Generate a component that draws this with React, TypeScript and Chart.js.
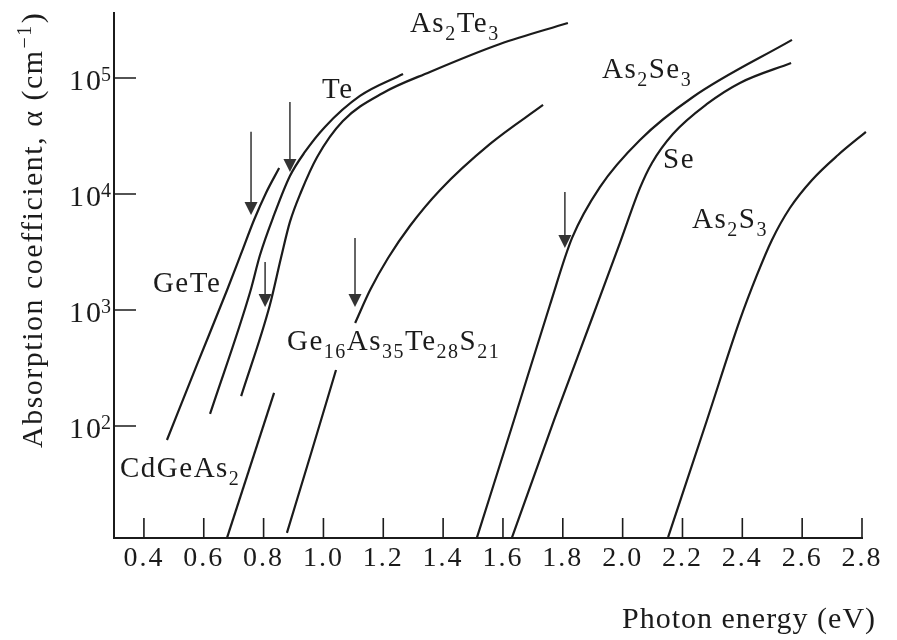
import React, { useEffect, useRef } from "react";
import { Chart, registerables } from "chart.js";

Chart.register(...registerables);

// ---------------- data ----------------
const X_TICKS = [0.4, 0.6, 0.8, 1.0, 1.2, 1.4, 1.6, 1.8, 2.0, 2.2, 2.4, 2.6, 2.8];
const Y_TICKS = [100, 1000, 10000, 100000];
const Y_TICK_MANTISSA = "10";
const Y_TICK_EXPONENTS = ["2", "3", "4", "5"];

const X_RANGE = [0.3, 2.8];
const Y_RANGE = [10.83, 363000];

// photon energy (eV) / absorption coefficient (cm^-1)
const GETE_E = [0.477, 0.577, 0.678, 0.7245, 0.768, 0.808, 0.852];
const GETE_A = [75.7, 336, 1486, 3040, 5970, 10210, 16750];

const TE_E = [0.621, 0.755, 0.788, 0.835, 0.888, 0.938, 1.005, 1.122, 1.266];
const TE_A = [127, 1429, 2979, 6590, 14280, 23010, 37860, 69970, 108100];

const AS2TE3_E = [0.725, 0.821, 0.858, 0.888, 0.925, 0.979, 1.065, 1.199, 1.356, 1.59, 1.817];
const AS2TE3_A = [181, 1104, 2805, 5741, 10400, 20850, 42580, 74300, 112700, 196300, 297900];

const CDGEAS2_E = [0.678, 0.835];
const CDGEAS2_A = [10.9, 193];

const GE16_E = [0.878, 0.962, 1.042, 1.07, 1.106, 1.156, 1.216, 1.289, 1.39, 1.557, 1.734];
const GE16_A = [12.0, 62.1, 304, null, 773, 1486, 2805, 5297, 10830, 27000, 58500];

const AS2SE3_E = [1.513, 1.637, 1.757, 1.831, 1.924, 2.058, 2.235, 2.566];
const AS2SE3_A = [10.9, 112.7, 1104, 4180, 11480, 29240, 68560, 212800];

const SE_E = [1.63, 1.771, 1.898, 1.991, 2.058, 2.098, 2.168, 2.282, 2.392, 2.563];
const SE_A = [10.9, 112.7, 853, 3784, 11270, 18500, 32890, 59700, 90600, 134600];

const AS2S3_E = [2.152, 2.282, 2.392, 2.449, 2.499, 2.559, 2.633, 2.72, 2.813];
const AS2S3_A = [11.0, 112.7, 820, 2004, 4013, 7568, 13210, 21680, 34260];

// curve labels ("_n" = subscript), anchored left/baseline in data coordinates
const LABEL_TEXT = ["As_2Te_3", "Te", "GeTe", "CdGeAs_2", "Ge_16As_35Te_28S_21", "As_2Se_3", "Se", "As_2S_3"];
const LABEL_E = [1.289, 0.995, 0.43, 0.32, 0.878, 1.931, 2.135, 2.232];
const LABEL_A = [249500, 67300, 1429, 36.3, 452, 100000, 16760, 5090];

// band-gap arrows
const ARROW_E = [0.758, 0.888, 0.805, 1.1055, 1.807];
const ARROW_FROM = [34300, 62100, 2595, 4180, 10400];
const ARROW_TO = [6590, 15500, 1062, 1062, 3430];

const X_TITLE = "Photon energy (eV)";
const Y_TITLE_MAIN = "Absorption coefficient, \u03b1 (cm";
const Y_TITLE_SUP = "\u22121";
const Y_TITLE_END = ")";

// ---------------- styling ----------------
const FONT = '"Liberation Serif", "Times New Roman", serif';
const INK = "#1b1b1b";

const pts = (E: number[], A: (number | null)[]) => E.map((e, i) => ({ x: e, y: A[i] }));

function richText(ctx: any, text: string, x: number, y: number, size: number, subSize: number, subDy: number) {
  const parts = text.split(/(_\d+)/).filter(Boolean);
  let cx = x;
  ctx.textAlign = "left";
  ctx.textBaseline = "alphabetic";
  for (const p of parts) {
    if (p.startsWith("_")) {
      const s = p.slice(1);
      ctx.font = `${subSize}px ${FONT}`;
      ctx.fillText(s, cx, y + subDy);
      cx += ctx.measureText(s).width;
    } else {
      ctx.font = `${size}px ${FONT}`;
      ctx.fillText(p, cx, y);
      cx += ctx.measureText(p).width;
    }
  }
}

const overlayPlugin = {
  id: "overlay",
  beforeDraw(chart: any) {
    chart.ctx.letterSpacing = "2px";
  },
  afterDraw(chart: any) {
    const ctx: any = chart.ctx;
    const xs = chart.scales.x;
    const ys = chart.scales.y;
    ctx.save();
    ctx.strokeStyle = INK;
    ctx.fillStyle = INK;

    // inward tick marks
    ctx.lineWidth = 1.6;
    ctx.beginPath();
    X_TICKS.forEach((v) => {
      const px = xs.getPixelForValue(v);
      ctx.moveTo(px, ys.bottom);
      ctx.lineTo(px, ys.bottom - 20);
    });
    Y_TICKS.forEach((v) => {
      const py = ys.getPixelForValue(v);
      ctx.moveTo(xs.left, py);
      ctx.lineTo(xs.left + 22, py);
    });
    ctx.stroke();

    // y tick labels 10^n
    ctx.letterSpacing = "2px";
    ctx.textBaseline = "alphabetic";
    Y_TICKS.forEach((v, i) => {
      const py = ys.getPixelForValue(v);
      ctx.font = `30px ${FONT}`;
      ctx.textAlign = "right";
      ctx.fillText(Y_TICK_MANTISSA, xs.left - 11, py + 12);
      ctx.font = `20px ${FONT}`;
      ctx.textAlign = "left";
      ctx.fillText(Y_TICK_EXPONENTS[i], xs.left - 13, py + 3);
    });

    // arrows
    ctx.strokeStyle = "#333";
    ctx.fillStyle = "#333";
    ctx.lineWidth = 1.5;
    ARROW_E.forEach((e, i) => {
      const px = xs.getPixelForValue(e);
      const y0 = ys.getPixelForValue(ARROW_FROM[i]);
      const y1 = ys.getPixelForValue(ARROW_TO[i]);
      ctx.beginPath();
      ctx.moveTo(px, y0);
      ctx.lineTo(px, y1 - 10);
      ctx.stroke();
      ctx.beginPath();
      ctx.moveTo(px - 6.5, y1 - 13);
      ctx.lineTo(px + 6.5, y1 - 13);
      ctx.lineTo(px, y1);
      ctx.closePath();
      ctx.fill();
    });

    // curve labels
    ctx.fillStyle = INK;
    ctx.letterSpacing = "1.5px";
    LABEL_TEXT.forEach((t, i) => {
      richText(ctx, t, xs.getPixelForValue(LABEL_E[i]), ys.getPixelForValue(LABEL_A[i]), 29, 20, 8);
    });

    // x title
    ctx.font = `30px ${FONT}`;
    ctx.letterSpacing = "1px";
    ctx.textAlign = "left";
    ctx.fillText(X_TITLE, xs.right - 240, ys.bottom + 90);

    // y title (rotated)
    ctx.save();
    ctx.translate(xs.left - 72, ys.bottom - 90);
    ctx.rotate(-Math.PI / 2);
    ctx.letterSpacing = "1.5px";
    ctx.textAlign = "left";
    ctx.font = `30px ${FONT}`;
    ctx.fillText(Y_TITLE_MAIN, 0, 0);
    let w = ctx.measureText(Y_TITLE_MAIN).width;
    ctx.font = `20px ${FONT}`;
    ctx.fillText(Y_TITLE_SUP, w + 1, -11);
    w += ctx.measureText(Y_TITLE_SUP).width + 2;
    ctx.font = `30px ${FONT}`;
    ctx.fillText(Y_TITLE_END, w, 0);
    ctx.restore();

    ctx.restore();
    ctx.letterSpacing = "0px";
  },
};

const curveStyle = {
  borderColor: INK,
  borderWidth: 2.2,
  pointRadius: 0,
  fill: false,
  cubicInterpolationMode: "monotone" as const,
  clip: false as const,
  spanGaps: false,
};

export default function App() {
  const ref = useRef<HTMLCanvasElement>(null);
  useEffect(() => {
    const canvas = ref.current;
    if (!canvas) return;
    const chart = new Chart(canvas, {
      type: "line",
      data: {
        datasets: [
          { label: "GeTe", data: pts(GETE_E, GETE_A), ...curveStyle },
          { label: "Te", data: pts(TE_E, TE_A), ...curveStyle },
          { label: "As2Te3", data: pts(AS2TE3_E, AS2TE3_A), ...curveStyle },
          { label: "CdGeAs2", data: pts(CDGEAS2_E, CDGEAS2_A), ...curveStyle },
          { label: "Ge16As35Te28S21", data: pts(GE16_E, GE16_A), ...curveStyle },
          { label: "As2Se3", data: pts(AS2SE3_E, AS2SE3_A), ...curveStyle },
          { label: "Se", data: pts(SE_E, SE_A), ...curveStyle },
          { label: "As2S3", data: pts(AS2S3_E, AS2S3_A), ...curveStyle },
        ] as any,
      },
      options: {
        responsive: false,
        animation: false,
        events: [],
        layout: { padding: { left: 114, right: 35, top: 13, bottom: 0 } },
        plugins: {
          legend: { display: false },
          tooltip: { enabled: false },
        },
        scales: {
          x: {
            type: "linear",
            min: X_RANGE[0],
            max: X_RANGE[1],
            afterBuildTicks: (s: any) => {
              s.ticks = X_TICKS.map((v) => ({ value: v }));
            },
            afterFit: (s: any) => {
              s.height = 102;
              s.paddingLeft = 0;
              s.paddingRight = 0;
            },
            grid: { display: false, drawTicks: false },
            border: { display: true, color: INK, width: 2 },
            ticks: {
              color: INK,
              font: { family: FONT, size: 28 },
              padding: 4,
              maxRotation: 0,
              minRotation: 0,
              autoSkip: false,
              callback: (v: any) => Number(v).toFixed(1),
            },
          },
          y: {
            type: "logarithmic",
            min: Y_RANGE[0],
            max: Y_RANGE[1],
            afterBuildTicks: (s: any) => {
              s.ticks = Y_TICKS.map((v) => ({ value: v }));
            },
            afterFit: (s: any) => {
              s.width = 0;
              s.paddingTop = 0;
              s.paddingBottom = 0;
            },
            grid: { display: false, drawTicks: false },
            border: { display: true, color: INK, width: 2 },
            ticks: { display: false },
          },
        },
      } as any,
      plugins: [overlayPlugin as any],
    });
    return () => chart.destroy();
  }, []);

  return (
    <div style={{ position: "fixed", left: 0, top: 0, width: 897, height: 640, background: "#fff" }}>
      <canvas ref={ref} width={897} height={640} style={{ display: "block", width: 897, height: 640 }} />
    </div>
  );
}
